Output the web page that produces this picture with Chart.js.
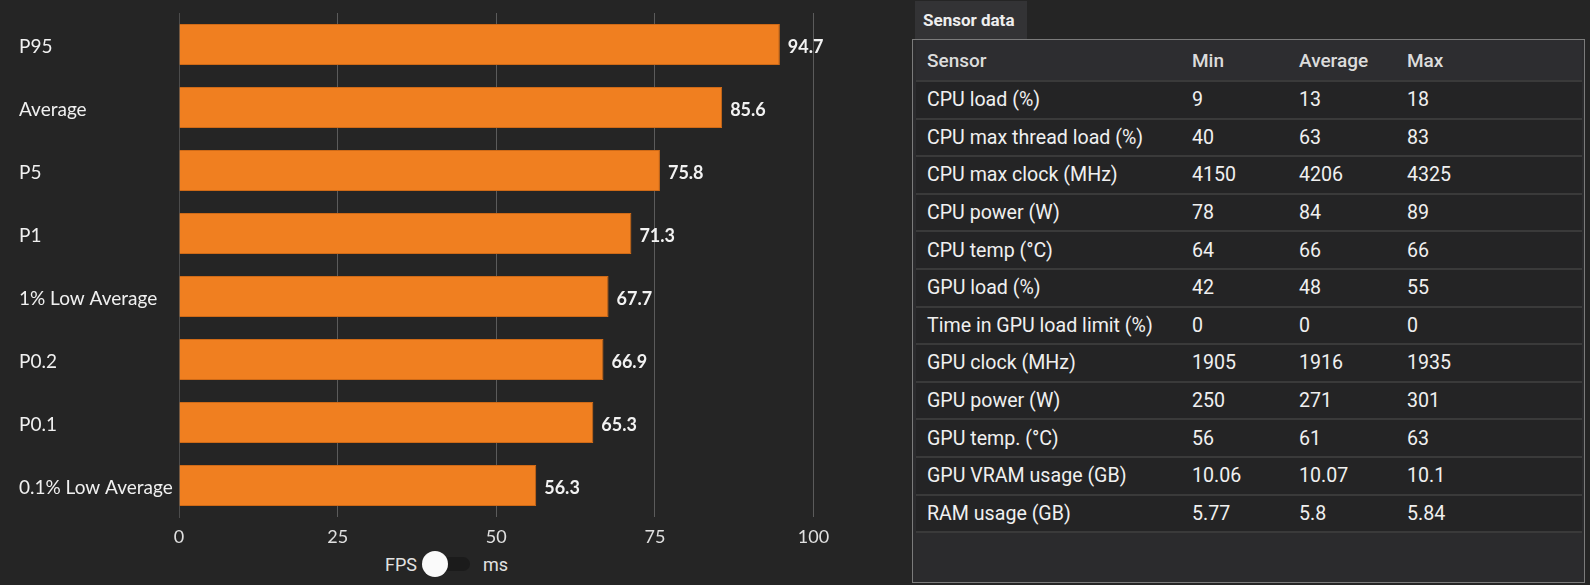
<!DOCTYPE html>
<html>
<head>
<meta charset="utf-8">
<script src="https://cdn.jsdelivr.net/npm/chart.js@4.4.1/dist/chart.umd.min.js"></script>
<style>
  html, body { margin: 0; padding: 0; }
  body { width: 1590px; height: 585px; overflow: hidden; background: #252525; position: relative; font-family: Roboto, sans-serif; }
  #chart-box { position: absolute; left: 0; top: 0; width: 880px; height: 550px; }
  .toggle { position: absolute; left: 385px; top: 551px; height: 26px; display: flex; align-items: center; color: #e2e2e2; font-size: 18px; }
  .toggle .track { position: relative; width: 36px; height: 14px; border-radius: 7px; background: #1b1b1b; margin: 0 13px 0 17px; }
  .toggle .knob { position: absolute; left: -12px; top: -6px; width: 26px; height: 26px; border-radius: 50%; background: #fafafa; }
  .tab { position: absolute; left: 915px; top: 1px; width: 112px; height: 38px; background: #333335; color: #eeeeee; font-weight: 700; font-size: 17px; line-height: 38px; padding-left: 8px; box-sizing: border-box; }
  .panel { position: absolute; left: 912px; top: 39px; width: 673px; height: 544px; border: 1px solid #7b7b7b; box-sizing: border-box; background: #2b2b2d; }
  .rows { margin-left: 3px; width: 666px; }
  .row { display: flex; height: 35.6px; border-bottom: 2px solid #3a3a3a; background: #242425; color: #f0f0f0; font-size: 19.6px; align-items: center; }
  .row.head { height: 40px; background: #2d2d30; color: #dcdcdc; font-weight: 500; font-size: 19px; }
  .row div { padding-left: 11px; box-sizing: border-box; white-space: nowrap; }
  .c1 { width: 265px; } .c2 { width: 107px; } .c3 { width: 108px; } .c4 { width: 186px; }
</style>
</head>
<body>
<div id="chart-box"><canvas id="fps-chart"></canvas></div>
<div class="toggle"><span>FPS</span><span class="track"><span class="knob"></span></span><span>ms</span></div>
<div class="tab">Sensor data</div>
<div class="panel"><div class="rows" id="sensor-rows"></div></div>

<script>
// Frame time statistics (FPS)
const categories = ["P95", "Average", "P5", "P1", "1% Low Average", "P0.2", "P0.1", "0.1% Low Average"];
const fpsValues = [94.7, 85.6, 75.8, 71.3, 67.7, 66.9, 65.3, 56.3];
const xTicks = [0, 25, 50, 75, 100];

// Sensor table
const tableHeader = ["Sensor", "Min", "Average", "Max"];
const sensorNames = ["CPU load (%)", "CPU max thread load (%)", "CPU max clock (MHz)", "CPU power (W)", "CPU temp (°C)",
  "GPU load (%)", "Time in GPU load limit (%)", "GPU clock (MHz)", "GPU power (W)", "GPU temp. (°C)",
  "GPU VRAM usage (GB)", "RAM usage (GB)"];
const sensorMin = ["9", "40", "4150", "78", "64", "42", "0", "1905", "250", "56", "10.06", "5.77"];
const sensorAvg = ["13", "63", "4206", "84", "66", "48", "0", "1916", "271", "61", "10.07", "5.8"];
const sensorMax = ["18", "83", "4325", "89", "66", "55", "0", "1935", "301", "63", "10.1", "5.84"];

// build the table
let rowsEl = document.getElementById('sensor-rows');
let makeRow = function (cells, cls) {
  let row = document.createElement('div');
  row.className = 'row' + (cls ? ' ' + cls : '');
  cells.forEach(function (txt, i) {
    let c = document.createElement('div');
    c.className = 'c' + (i + 1);
    c.textContent = txt;
    row.appendChild(c);
  });
  rowsEl.appendChild(row);
};
makeRow(tableHeader, 'head');
sensorNames.forEach(function (name, i) {
  makeRow([name, sensorMin[i], sensorAvg[i], sensorMax[i]]);
});

// value labels at the end of each bar
const barValueLabels = {
  id: 'barValueLabels',
  afterDatasetsDraw(chart) {
    const ctx = chart.ctx;
    const meta = chart.getDatasetMeta(0);
    ctx.save();
    ctx.font = 'bold 18px Lato';
    ctx.fillStyle = '#f2f2f2';
    ctx.textAlign = 'left';
    ctx.textBaseline = 'middle';
    meta.data.forEach(function (bar, i) {
      ctx.fillText(chart.data.datasets[0].data[i].toFixed(1), bar.x + 8, bar.y + 2.5);
    });
    ctx.restore();
  }
};

let ctx = document.getElementById('fps-chart');
let fpsChart = new Chart(ctx, {
  type: 'bar',
  data: {
    labels: categories,
    datasets: [{
      data: fpsValues,
      backgroundColor: '#f07f20',
      borderColor: '#cf6a17',
      borderWidth: 1,
      barPercentage: 0.65,
      categoryPercentage: 1
    }]
  },
  options: {
    indexAxis: 'y',
    responsive: true,
    maintainAspectRatio: false,
    animation: false,
    layout: { padding: { left: 19, top: 13, right: 66.5, bottom: 0 } },
    plugins: {
      legend: { display: false },
      tooltip: { enabled: false }
    },
    scales: {
      x: {
        min: 0,
        max: 100,
        afterBuildTicks: function (scale) {
          scale.ticks = xTicks.map(function (v) { return { value: v }; });
        },
        afterFit: function (scale) { scale.height = 33; },
        grid: { color: '#5b5b5b', drawTicks: false },
        border: { display: false },
        ticks: { color: '#e0e0e0', padding: 9, font: { family: 'Lato', size: 18 } }
      },
      y: {
        afterFit: function (scale) { scale.width = 160; },
        grid: { color: 'transparent', drawTicks: false },
        border: { display: true, color: '#4c4c4c', width: 1 },
        ticks: { color: '#f0f0f0', crossAlign: 'far', padding: 0, labelOffset: 2.5, font: { family: 'Lato', size: 19 } }
      }
    }
  },
  plugins: [barValueLabels]
});
</script>
</body>
</html>
